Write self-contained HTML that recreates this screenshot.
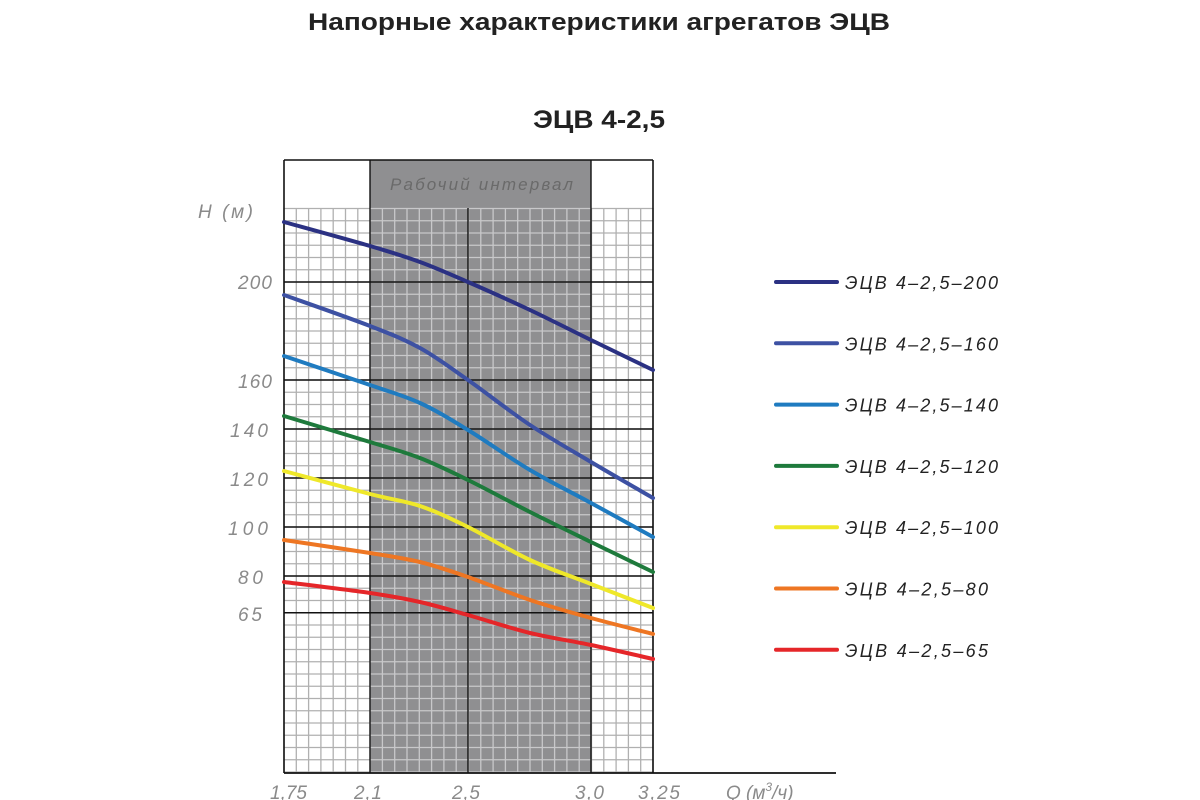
<!DOCTYPE html>
<html><head><meta charset="utf-8"><style>
html,body{margin:0;padding:0;background:#fff;}
svg{display:block;}
</style></head><body>
<svg id="s" width="1200" height="800" xmlns="http://www.w3.org/2000/svg" font-family="Liberation Sans, sans-serif">
<text x="599" y="30" text-anchor="middle" font-size="24" font-weight="bold" fill="#222" textLength="582" lengthAdjust="spacingAndGlyphs">Напорные характеристики агрегатов ЭЦВ</text>
<text x="599" y="128" text-anchor="middle" font-size="25" font-weight="bold" fill="#222" textLength="132" lengthAdjust="spacingAndGlyphs">ЭЦВ 4-2,5</text>
<rect x="370" y="160" width="221" height="613" fill="#8f8f91"/>
<g id="grid"></g>
<text x="390" y="190" font-size="17" font-style="italic" fill="#6a6a6a" textLength="183" lengthAdjust="spacing">Рабочий интервал</text>
<g fill="#8a8a8a" font-size="19" font-style="italic" lengthAdjust="spacingAndGlyphs">
<text x="198" y="218" textLength="55" lengthAdjust="spacing">H (м)</text>
<text x="238" y="289" textLength="34">200</text>
<text x="238" y="388" textLength="34">160</text>
<text x="230" y="437" textLength="38">140</text>
<text x="230" y="486" textLength="38">120</text>
<text x="228" y="535" textLength="40">100</text>
<text x="238" y="584" textLength="25">80</text>
<text x="238" y="621" textLength="24">65</text>
<text x="270" y="799" textLength="37">1,75</text>
<text x="354" y="799" textLength="28">2,1</text>
<text x="452" y="799" textLength="28">2,5</text>
<text x="575" y="799" textLength="29">3,0</text>
<text x="638" y="799" textLength="42">3,25</text>
<text x="726" y="799">Q (м<tspan font-size="12" dy="-8">3</tspan><tspan dy="8">/ч)</tspan></text>
</g>
<g id="curves" fill="none" stroke-width="4" stroke-linecap="round" stroke-linejoin="round"></g>
<g id="leg" font-size="18" font-style="italic" fill="#222"></g>
</svg>
<script>
var NS="http://www.w3.org/2000/svg";
function el(p,t,a){var e=document.createElementNS(NS,t);for(var k in a)e.setAttribute(k,a[k]);p.appendChild(e);return e;}
var g=document.getElementById('grid');
var L=284,R=653,T=160,GT=208,B=773,dx=369/30,dy=2.45*5;
for(var i=0;i<=30;i++){var x=L+i*dx;var inG=x>371&&x<590;
 el(g,'line',{x1:x,y1:GT,x2:x,y2:B,stroke:inG?'#c8c8ca':'#b0b0b0','stroke-width':1.3});}
for(var j=0;j<=46;j++){var y=772-j*dy;if(y<GT-1)break;
 el(g,'line',{x1:L,y1:y,x2:370,y2:y,stroke:'#b0b0b0','stroke-width':1.3});
 el(g,'line',{x1:370,y1:y,x2:591,y2:y,stroke:'#c8c8ca','stroke-width':1.3});
 el(g,'line',{x1:591,y1:y,x2:R,y2:y,stroke:'#b0b0b0','stroke-width':1.3});}
[200,160,140,120,100,80,65].forEach(function(h){var y=772-h*2.45;el(g,'line',{x1:L,y1:y,x2:R,y2:y,stroke:'#111','stroke-width':1.4});});
[370,468,591].forEach(function(x){el(g,'line',{x1:x,y1:x==468?GT:T,x2:x,y2:B,stroke:'#111','stroke-width':1.4});});
el(g,'line',{x1:L,y1:T,x2:L,y2:B,stroke:'#111','stroke-width':1.6});
el(g,'line',{x1:R,y1:T,x2:R,y2:B,stroke:'#111','stroke-width':1.6});
el(g,'line',{x1:L,y1:T,x2:R,y2:T,stroke:'#111','stroke-width':1.6});
el(g,'line',{x1:L,y1:B,x2:836,y2:B,stroke:'#111','stroke-width':1.8});
var xs=[284,370,420,468,530,591,653];
var C=[
['#2b3183','200',[222,246,262,282,310,340,370],153],
['#3d51a3','160',[295,326,348,380,425,462,498],153],
['#1f7bc0','140',[356,385,403,430,470,503,537],153],
['#1e7a3c','120',[416,442,458,480,512,542,572],153],
['#efe82a','100',[471,494,506,527,560,584,608],153],
['#ee7623','80',[540,553,562,577,600,618,634],143],
['#e52629','65',[582,593,602,615,633,645,659],143]];
var cg=document.getElementById('curves'),lg=document.getElementById('leg');
function cr(ys){var p=xs.map(function(x,i){return[x,ys[i]];});var d='M'+p[0];
 for(var i=0;i<p.length-1;i++){var p0=p[i-1]||p[i],p1=p[i],p2=p[i+1],p3=p[i+2]||p2;
  var c1=[p1[0]+(p2[0]-p0[0])/6,p1[1]+(p2[1]-p0[1])/6],c2=[p2[0]-(p3[0]-p1[0])/6,p2[1]-(p3[1]-p1[1])/6];
  d+=' C'+c1+' '+c2+' '+p2;}return d;}
C.forEach(function(c,k){el(cg,'path',{d:cr(c[2]),stroke:c[0]});
 var y=282+k*61.3;el(cg,'line',{x1:776,y1:y,x2:837,y2:y,stroke:c[0]});
 var t=el(lg,'text',{x:845,y:y+7,textLength:c[3],lengthAdjust:'spacing'});t.textContent='ЭЦВ 4–2,5–'+c[1];});
</script>
</body></html>
